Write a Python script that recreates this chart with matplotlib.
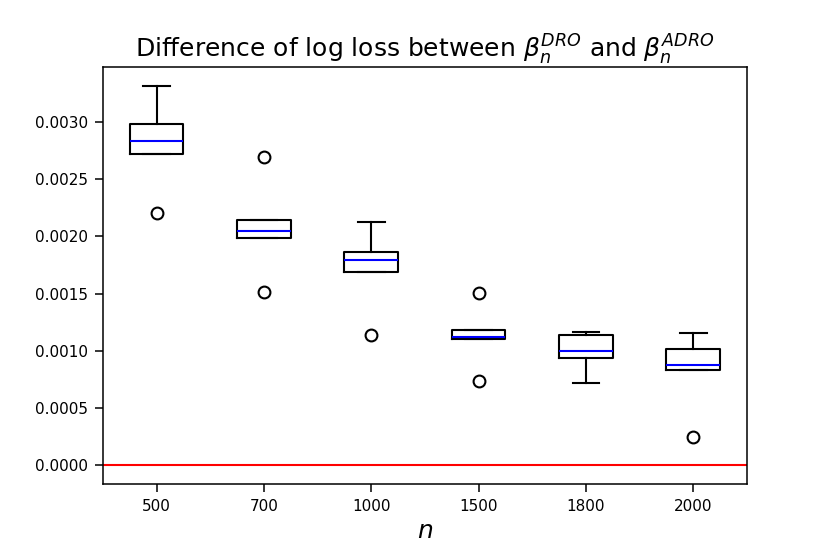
import numpy as np
import matplotlib
matplotlib.use("Agg")
import matplotlib.pyplot as plt

# box statistics
nLabels = ["500", "700", "1000", "1500", "1800", "2000"]
medians = [0.002831, 0.002044, 0.001794, 0.001119, 0.001000, 0.000872]
q1 = [0.002724, 0.001988, 0.001686, 0.001099, 0.000936, 0.000828]
q3 = [0.002980, 0.002145, 0.001866, 0.001180, 0.001134, 0.001017]
whisLo = [0.002724, 0.001988, 0.001686, 0.001099, 0.000715, 0.000828]
whisHi = [0.003314, 0.002145, 0.002125, 0.001180, 0.001163, 0.001154]
fliers = [[0.002206], [0.002695, 0.001517], [0.001142], [0.001509, 0.000738], [], [0.000244]]

stats = []
for i in range(len(nLabels)):
	stats.append({
		"label": nLabels[i],
		"med": medians[i],
		"q1": q1[i],
		"q3": q3[i],
		"whislo": whisLo[i],
		"whishi": whisHi[i],
		"fliers": fliers[i]
	})

fig = plt.figure(figsize = (8.3, 5.54), dpi = 100)
ax = fig.add_axes([0.124, 0.126, 0.776, 0.753])

lw = 1.5
ax.bxp(stats,
	boxprops = dict(color = "black", linewidth = lw),
	whiskerprops = dict(color = "black", linewidth = lw),
	capprops = dict(color = "black", linewidth = lw),
	medianprops = dict(color = "blue", linewidth = lw),
	flierprops = dict(marker = "o", markerfacecolor = "none", markeredgecolor = "black", markersize = 8.5, markeredgewidth = lw))
ax.axhline(0, color = "red", linewidth = lw)

for spine in ax.spines.values():
	spine.set_linewidth(1.1)
ax.tick_params(labelsize = 11, length = 6, width = 1.1, pad = 4.5)
ax.set_xlabel("$n$", fontsize = 18)
ax.set_title(r"Difference of log loss between $\beta_n^{DRO}$ and $\beta_n^{ADRO}$", fontsize = 18)

fig.savefig("out.png", dpi = 100)
